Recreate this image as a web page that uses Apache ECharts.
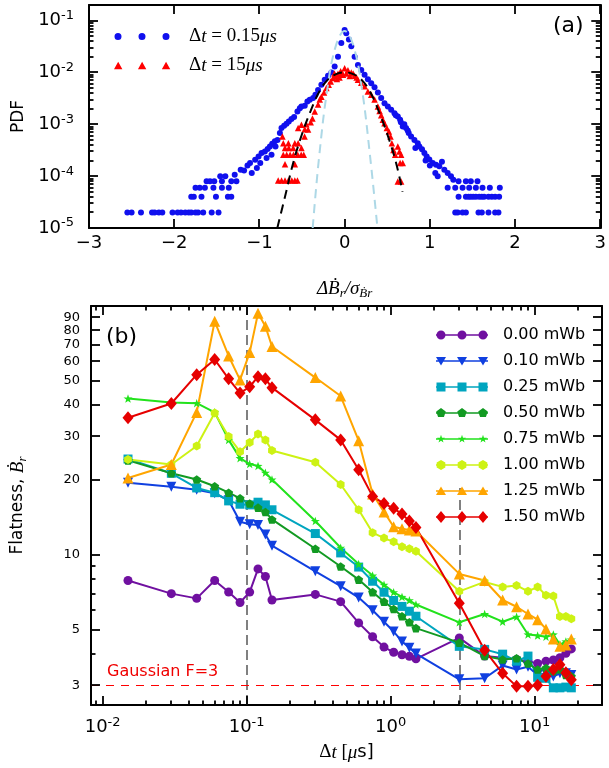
<!DOCTYPE html>
<html>
<head>
<meta charset="utf-8">
<script src="https://cdn.jsdelivr.net/npm/echarts@6/dist/echarts.min.js"></script>
<style>
html, body { margin: 0; padding: 0; background: #fff; }
#chart { width: 609px; height: 768px; }
</style>
</head>
<body>
<div id="chart"></div>
<script>
// ---- panel (a): PDF of the increments, [x, pdf] ----
const shortLagPdf = [
  [-2.55,2e-5],[-2.50,2e-5],[-2.39,2e-5],[-2.26,2e-5],[-2.23,2e-5],[-2.18,2e-5],[-2.14,2e-5],[-2.02,2e-5],[-1.96,2e-5],
  [-1.92,2e-5],[-1.87,2e-5],[-1.83,2e-5],[-1.80,2e-5],[-1.75,2e-5],[-1.72,2e-5],[-1.66,2e-5],[-1.56,2e-5],[-1.48,2e-5],
  [-1.80,4e-5],[-1.77,4e-5],[-1.68,4e-5],[-1.51,4e-5],[-1.37,4e-5],[-1.33,4e-5],
  [-1.75,6e-5],[-1.70,6e-5],[-1.64,6e-5],[-1.54,6e-5],[-1.44,6e-5],[-1.36,6e-5],
  [-1.62,8e-5],[-1.58,8e-5],[-1.53,8e-5],[-1.44,8e-5],[-1.33,8e-5],[-1.27,8e-5],
  [-1.46,1e-4],[-1.40,1e-4],[-1.29,1.07e-4],[-1.18,1.29e-4],[-1.09,1.15e-4],
  [-1.22,1.33e-4],[-1.14,1.61e-4],[-1.11,1.79e-4],[-1.05,2.07e-4],[-1.03,1.43e-4],[-1.01,2.4e-4],[-0.99,1.79e-4],
  [-0.975,2.79e-4],[-0.936,3.0e-4],[-0.916,2.23e-4],[-0.904,3.33e-4],[-0.877,3.75e-4],[-0.858,2.59e-4],[-0.85,4.2e-4],
  [-0.819,4.7e-4],[-0.811,3.75e-4],[-0.788,5.0e-4],[-0.76,6.8e-4],[-0.741,8.5e-4],[-0.71,9.4e-4],[-0.682,1.02e-3],
  [-0.655,1.13e-3],[-0.624,1.26e-3],[-0.593,1.38e-3],[-0.554,1.77e-3],[-0.526,2.05e-3],[-0.507,2.21e-3],[-0.468,2.27e-3],
  [-0.437,2.76e-3],[-0.409,2.97e-3],[-0.37,3.2e-3],[-0.343,3.7e-3],[-0.312,4.6e-3],[-0.273,5.8e-3],[-0.234,7.2e-3],
  [-0.195,8.6e-3],[-0.156,1.0e-2],[-0.117,1.3e-2],[-0.078,2.0e-2],[-0.039,3.7e-2],[0,6.6e-2],
  [0.019,5.7e-2],[0.05,4.3e-2],[0.078,3.2e-2],[0.117,2.0e-2],[0.156,1.4e-2],[0.195,1.12e-2],[0.234,9.0e-3],[0.273,7.4e-3],
  [0.312,6.2e-3],[0.351,5.2e-3],[0.39,4.1e-3],[0.429,3.2e-3],[0.468,2.56e-3],[0.507,2.2e-3],[0.546,1.9e-3],[0.585,1.64e-3],
  [0.6,1.5e-3],[0.624,1.42e-3],[0.651,1.22e-3],[0.66,1.1e-3],[0.682,9.1e-4],[0.70,1.0e-3],[0.721,8.5e-4],[0.74,7.6e-4],
  [0.752,6.8e-4],[0.78,5.8e-4],[0.819,5.0e-4],[0.83,3.5e-4],[0.858,4.3e-4],[0.877,3.75e-4],[0.908,3.3e-4],[0.936,2.8e-4],
  [0.95,2.0e-4],[0.963,2.4e-4],[0.994,2.1e-4],[1.0,1.6e-4],[1.033,1.8e-4],[1.064,1.15e-4],[1.072,1.66e-4],[1.092,1.0e-4],
  [1.111,1.55e-4],[1.142,1.9e-4],[1.17,1.33e-4],[1.209,1.15e-4],[1.248,1.0e-4],[1.275,8.5e-5],
  [1.337,8e-5],[1.423,8e-5],[1.481,8e-5],[1.559,8e-5],
  [1.209,6e-5],[1.298,6e-5],[1.384,6e-5],[1.462,6e-5],[1.540,6e-5],[1.618,6e-5],[1.704,6e-5],[1.821,6e-5],
  [1.337,4e-5],[1.423,4e-5],[1.454,4e-5],[1.481,4e-5],[1.509,4e-5],[1.540,4e-5],[1.579,4e-5],[1.610,4e-5],[1.637,4e-5],
  [1.688,4e-5],[1.727,4e-5],[1.766,4e-5],[1.813,4e-5],
  [1.298,2e-5],[1.326,2e-5],[1.384,2e-5],[1.423,2e-5],[1.571,2e-5],[1.610,2e-5],[1.688,2e-5],[1.766,2e-5],[1.805,2e-5]
];
const longLagPdf = [
  [-0.78,8.2e-5],[-0.74,8.2e-5],[-0.70,8.2e-5],[-0.66,8.2e-5],[-0.62,8.2e-5],[-0.585,8.2e-5],[-0.554,8.2e-5],
  [-0.70,1.7e-4],[-0.585,1.7e-4],
  [-0.72,2.6e-4],[-0.68,2.6e-4],[-0.64,2.6e-4],[-0.60,2.6e-4],[-0.55,2.6e-4],[-0.51,2.6e-4],[-0.48,2.6e-4],
  [-0.70,3.5e-4],[-0.655,3.5e-4],[-0.604,3.5e-4],[-0.507,3.5e-4],
  [-0.72,4.3e-4],[-0.66,4.3e-4],[-0.585,4.3e-4],[-0.546,4.3e-4],
  [-0.73,5.8e-4],[-0.47,5.8e-4],
  [-0.546,8.5e-4],[-0.507,9.8e-4],[-0.468,8.0e-4],[-0.45,1.0e-3],[-0.429,7.9e-4],[-0.398,1.1e-3],[-0.378,1.3e-3],
  [-0.351,1.77e-3],[-0.312,2.4e-3],[-0.292,3.0e-3],[-0.273,3.4e-3],[-0.242,4.1e-3],[-0.214,5.0e-3],[-0.187,5.8e-3],
  [-0.164,6.7e-3],[-0.136,7.8e-3],[-0.12,9.5e-3],[-0.109,8.6e-3],[-0.09,7.5e-3],[-0.078,9.4e-3],[-0.06,8.0e-3],
  [-0.047,1.05e-2],[-0.03,9.8e-3],[-0.019,9.0e-3],
  [0,1.2e-2],[0.02,9.5e-3],[0.039,1.1e-2],[0.06,8.5e-3],[0.078,1.0e-2],[0.1,9.5e-3],[0.117,8.6e-3],[0.14,8.0e-3],
  [0.156,7.2e-3],[0.195,6.3e-3],[0.234,5.4e-3],[0.273,4.3e-3],[0.312,3.7e-3],[0.351,3.0e-3],[0.39,2.2e-3],[0.41,1.8e-3],
  [0.429,1.5e-3],[0.448,1.22e-3],[0.468,1.05e-3],[0.495,8.5e-4],[0.519,7.3e-4],[0.538,5.8e-4],[0.554,4.3e-4],[0.573,3.2e-4],
  [0.593,2.6e-4],[0.624,3.75e-4],[0.643,3.0e-4],[0.663,2.6e-4],[0.651,1.8e-4],[0.682,1.8e-4],[0.624,7.9e-5],[0.663,7.9e-5]
];
// dashed Gaussian curves
const longLagFit = [
  [-0.79,1.0e-5],[-0.7,4.0e-5],[-0.6,1.9e-4],[-0.5,6.5e-4],[-0.4,1.8e-3],[-0.3,4.2e-3],[-0.2,7.2e-3],[-0.1,9.3e-3],
  [0,1.0e-2],[0.1,9.3e-3],[0.2,7.2e-3],[0.3,4.2e-3],[0.4,1.8e-3],[0.5,6.5e-4],[0.6,1.9e-4],[0.68,5.0e-5]
];
const shortLagFit = [
  [-0.375,1.0e-5],[-0.3,2.3e-4],[-0.2,5.2e-3],[-0.1,3.4e-2],[0,6.3e-2],[0.1,3.4e-2],[0.2,5.2e-3],[0.3,2.3e-4],[0.385,1.0e-5]
];
const incrTicks = [-3, -2, -1, 0, 1, 2, 3];
const pdfTicks = [1e-5, 1e-4, 1e-3, 1e-2, 1e-1];
const incrRange = [-3, 3];
const pdfRange = [1e-5, 0.2];

// ---- panel (b): flatness vs time lag ----
const dtValues = [0.015,0.03,0.045,0.06,0.075,0.09,0.105,0.12,0.135,0.15,0.3,0.45,0.6,0.75,0.9,1.05,1.2,1.35,1.5,
                  3,4.5,6,7.5,9,10.5,12,13.5,15,16.5,18];
const flat000 = [7.9,7.0,6.7,7.9,7.1,6.45,7.1,8.8,8.2,6.6,6.95,6.5,5.34,4.7,4.27,4.07,3.98,3.92,3.83,
                 4.65,3.93,3.87,3.81,3.75,3.67,3.75,3.79,3.87,4.03,4.2];
const flat010 = [19.5,18.8,18.3,17.7,16.6,13.6,13.3,13.2,12.1,10.9,8.6,7.5,6.75,6.0,5.4,4.93,4.5,4.24,4.02,
                 3.17,3.2,3.6,3.47,3.56,3.3,3.35,3.25,3.35,3.35,3.3];
const flat025 = [24.3,21.3,18.6,17.8,16.5,16.0,15.9,16.3,15.9,15.2,12.2,10.2,8.95,7.85,7.09,6.57,6.22,5.95,5.68,
                 4.3,4.18,4.0,3.75,3.93,3.23,3.2,2.93,2.93,2.95,2.93];
const flat050 = [24.0,21.3,20.1,18.9,17.8,16.9,16.1,15.5,14.9,13.9,10.6,9.0,7.97,7.1,6.5,6.07,5.68,5.37,5.09,
                 4.45,3.93,3.81,3.85,3.67,3.47,3.52,3.42,3.47,3.3,3.26];
const flat075 = [42.5,41.0,40.7,37.4,29.0,24.5,23.2,22.8,21.4,20.1,13.7,10.7,9.2,8.27,7.6,7.09,6.79,6.58,6.33,
                 5.37,5.8,5.4,5.65,4.8,4.75,4.7,4.8,4.37,4.5,4.58];
const flat100 = [24.2,23.1,27.4,37.2,29.9,26.0,28.3,30.6,29.0,26.3,23.6,19.2,15.2,12.3,11.7,11.3,10.8,10.6,10.35,
                 7.15,7.8,7.45,7.55,7.15,7.45,6.9,6.85,5.67,5.67,5.55];
const flat125 = [20.4,23.1,37.4,86.8,63.0,50.5,65.0,93.5,83.0,68.8,51.6,43.5,28.8,17.6,14.9,13.0,12.75,12.6,12.5,
                 8.4,7.9,6.6,6.2,5.8,5.5,5.05,4.6,4.3,4.35,4.6];
const flat150 = [35.6,40.6,53,61,51,44.7,47.4,52,51,47,34.9,29,22,17.2,16.1,15.4,14.6,13.7,12.9,
                 6.4,4.15,3.35,2.97,2.97,3.0,3.26,3.47,3.63,3.37,3.16];
const fluxNames = ['0.00 mWb','0.10 mWb','0.25 mWb','0.50 mWb','0.75 mWb','1.00 mWb','1.25 mWb','1.50 mWb'];
const dtTicks = [0.01, 0.1, 1, 10];
const flatLabels = [3, 5, 10, 20, 30, 40, 50, 60, 70, 80, 90];
const flatMinorTicks = [4, 6, 7, 8, 9];
const dtRange = [0.0083, 29.4];
const flatRange = [2.5, 100];
const gaussianFlatness = 3;
const guideLags = [0.105, 3.0];
const guideTop = 18.6;   // the second guide stops here

const SANS = '"DejaVu Sans", sans-serif';
const SERIF = '"Liberation Serif", "DejaVu Serif", serif';
const MAJOR = 9, MINOR = 4.5, TICK_W = 1.8;

const fluxColors = ['#7010a0','#1040e0','#00a5bf','#129a22','#22e21c','#cdf214','#ffa500','#e60000'];
const PENT = 'path://M0,-10L9.51,-3.09L5.88,8.09L-5.88,8.09L-9.51,-3.09Z';
const STAR = 'path://M0,-10L2.35,-3.24L9.51,-3.09L3.8,1.24L5.88,8.09L0,4L-5.88,8.09L-3.8,1.24L-9.51,-3.09L-2.35,-3.24Z';
const HEX = 'path://M0,-10L8.66,-5L8.66,5L0,10L-8.66,5L-8.66,-5Z';
const markerDefs = [
  { symbol: 'circle', size: 9, shape: 'circle' },
  { symbol: 'triangle', size: 10, rotate: 180, shape: 'tridown' },
  { symbol: 'rect', size: 9, shape: 'square' },
  { symbol: PENT, size: 9, shape: 'pent' },
  { symbol: STAR, size: 9, shape: 'star' },
  { symbol: HEX, size: 9, shape: 'hex' },
  { symbol: 'triangle', size: 11, shape: 'triup' },
  { symbol: 'diamond', size: [11, 13], shape: 'diamond' }
];
const shapePts = {
  tridown: [[-10,-8],[10,-8],[0,9]],
  square: [[-9,-9],[9,-9],[9,9],[-9,9]],
  pent: [[0,-10],[9.51,-3.09],[5.88,8.09],[-5.88,8.09],[-9.51,-3.09]],
  star: [[0,-10],[2.35,-3.24],[9.51,-3.09],[3.8,1.24],[5.88,8.09],[0,4],[-5.88,8.09],[-3.8,1.24],[-9.51,-3.09],[-2.35,-3.24]],
  hex: [[0,-10],[8.66,-5],[8.66,5],[0,10],[-8.66,5],[-8.66,-5]],
  triup: [[0,-9],[10,8],[-10,8]],
  diamond: [[0,-12],[10,0],[0,12],[-10,0]]
};

// legend icon: line with three markers (matplotlib style), blank space on the right
function lineIcon(shape) {
  let d = 'M0,0 M62,12 M0,5.2 L52,5.2 L52,6.8 L0,6.8 Z';
  [5, 26, 47].forEach(cx => {
    if (shape === 'circle') {
      d += ` M${cx - 4.5},6 A4.5,4.5 0 1 1 ${cx + 4.5},6 A4.5,4.5 0 1 1 ${cx - 4.5},6 Z`;
    } else {
      const k = shape === 'star' ? 0.42 : 0.5;
      d += ' M' + shapePts[shape].map(p => (cx + p[0] * k).toFixed(2) + ',' + (6 + p[1] * k).toFixed(2)).join(' L') + ' Z';
    }
  });
  return 'path://' + d;
}
function scatterIcon(kind) {
  let d = 'M0,0 M70,8';
  [4, 28, 52].forEach(cx => {
    if (kind === 'dot') d += ` M${cx - 3.5},4 A3.5,3.5 0 1 1 ${cx + 3.5},4 A3.5,3.5 0 1 1 ${cx - 3.5},4 Z`;
    else d += ` M${cx},0.3 L${cx + 4.2},7.7 L${cx - 4.2},7.7 Z`;
  });
  return 'path://' + d;
}
// k*10^n tick values inside a log range
function decadeTicks(range, factors) {
  const out = [];
  for (let n = Math.floor(Math.log10(range[0])) - 1; n <= Math.ceil(Math.log10(range[1])); n++) {
    factors.forEach(k => {
      const v = +(k * Math.pow(10, n)).toPrecision(3);
      if (v >= range[0] && v <= range[1]) out.push(v);
    });
  }
  return out;
}
const ks = [2, 3, 4, 5, 6, 7, 8, 9];

const supFmt = v => '10{s|' + Math.round(Math.log10(v)) + '}';
const frame = { show: true, onZero: false, lineStyle: { color: '#000', width: 2 } };
const off = { show: false };
const numLabel = vals => ({ customValues: vals, margin: 11, fontSize: 13,
  hideOverlap: false, showMaxLabel: true, showMinLabel: true, color: '#000', fontFamily: SANS });

const chart = echarts.init(document.getElementById('chart'));

const fluxData = [flat000, flat010, flat025, flat050, flat075, flat100, flat125, flat150];
const fluxSeries = fluxData.map((vals, i) => ({
  name: fluxNames[i],
  type: 'line',
  xAxisIndex: 2, yAxisIndex: 2,
  data: dtValues.map((t, j) => [t, vals[j]]),
  symbol: markerDefs[i].symbol,
  symbolSize: markerDefs[i].size,
  symbolRotate: markerDefs[i].rotate || 0,
  symbolKeepAspect: true,
  showAllSymbol: true,
  color: fluxColors[i],
  lineStyle: { width: 2, color: fluxColors[i] },
  itemStyle: { color: fluxColors[i], borderWidth: 0 },
  emphasis: { disabled: true }
}));

chart.setOption({
  animation: false,
  backgroundColor: '#fff',
  textStyle: { fontFamily: SANS },
  grid: [
    { left: 89, top: 5, width: 514, height: 223 },
    { left: 91, top: 306, width: 511, height: 399 }
  ],
  xAxis: [
    { // 0: panel (a) bottom
      gridIndex: 0, type: 'value', position: 'bottom', min: incrRange[0], max: incrRange[1], interval: 1,
      axisLine: frame, axisTick: off, splitLine: off,
      axisLabel: { margin: 6, fontSize: 18, color: '#000', fontFamily: SANS,
        formatter: v => (v < 0 ? '\u2212' + Math.abs(v) : String(v)) },
      name: '{m|\u0394\u1E02}{s|r}{m|/\u03C3}{s|\u1E02r}',
      nameLocation: 'middle', nameGap: 50,
      nameTextStyle: { color: '#000', rich: {
        m: { fontFamily: SERIF, fontStyle: 'italic', fontSize: 19, color: '#000', lineHeight: 22 },
        s: { fontFamily: SERIF, fontStyle: 'italic', fontSize: 13, color: '#000', padding: [9, 0, 0, 0] }
      } }
    },
    { // 1: panel (a) top
      gridIndex: 0, type: 'value', position: 'top', min: incrRange[0], max: incrRange[1], interval: 1,
      axisLine: frame, axisTick: off, axisLabel: off, splitLine: off
    },
    { // 2: panel (b) bottom
      gridIndex: 1, type: 'log', position: 'bottom', min: dtRange[0], max: dtRange[1],
      axisLine: frame, axisTick: off, splitLine: off, minorTick: off,
      axisLabel: { customValues: dtTicks, margin: 11, fontSize: 18, color: '#000', fontFamily: SANS, formatter: supFmt,
        rich: { s: { fontSize: 13, fontFamily: SANS, color: '#000', padding: [0, 0, 10, 0] } } },
      name: '{m|\u0394}{i|t}{m| [}{i|\u03BC}{n|s]}',
      nameLocation: 'middle', nameGap: 38,
      nameTextStyle: { color: '#000', rich: {
        m: { fontFamily: SERIF, fontSize: 19, color: '#000' },
        i: { fontFamily: SERIF, fontStyle: 'italic', fontSize: 19, color: '#000' },
        n: { fontFamily: SANS, fontSize: 18, color: '#000' }
      } }
    },
    { // 3: panel (b) top
      gridIndex: 1, type: 'log', position: 'top', min: dtRange[0], max: dtRange[1],
      axisLine: frame, axisTick: off, axisLabel: off, splitLine: off, minorTick: off
    }
  ],
  yAxis: [
    { // 0: panel (a) left
      gridIndex: 0, type: 'log', position: 'left', min: pdfRange[0], max: pdfRange[1],
      axisLine: frame, axisTick: off, splitLine: off, minorTick: off,
      axisLabel: { customValues: pdfTicks, margin: 15, fontSize: 18, color: '#000', fontFamily: SANS, formatter: supFmt,
        showMaxLabel: true, showMinLabel: true,
        rich: { s: { fontSize: 13, fontFamily: SANS, color: '#000', padding: [0, 0, 10, 0] } } },
      name: 'PDF', nameLocation: 'middle', nameGap: 60,
      nameTextStyle: { fontSize: 17, color: '#000', fontFamily: SANS }
    },
    { // 1: panel (a) right
      gridIndex: 0, type: 'log', position: 'right', min: pdfRange[0], max: pdfRange[1],
      axisLine: frame, axisTick: off, axisLabel: off, splitLine: off, minorTick: off
    },
    { // 2: panel (b) left, labels 3..80
      gridIndex: 1, type: 'log', position: 'left', min: flatRange[0], max: flatRange[1],
      axisLine: frame, axisTick: off, splitLine: off, minorTick: off,
      axisLabel: numLabel(flatLabels.slice(0, -1)),
      name: 'Flatness, {b|\u1E02}{s|r}', nameLocation: 'middle', nameGap: 62,
      nameTextStyle: { fontSize: 17, color: '#000', fontFamily: SANS, rich: {
        b: { fontFamily: SERIF, fontStyle: 'italic', fontSize: 19, color: '#000' },
        s: { fontFamily: SERIF, fontStyle: 'italic', fontSize: 13, color: '#000', padding: [9, 0, 0, 0] }
      } }
    },
    { // 3: panel (b) right
      gridIndex: 1, type: 'log', position: 'right', min: flatRange[0], max: flatRange[1],
      axisLine: frame, axisTick: off, axisLabel: off, splitLine: off, minorTick: off
    },
    { // 4: panel (b) left, the crowded top label on its own
      gridIndex: 1, type: 'log', position: 'left', min: flatRange[0], max: flatRange[1],
      axisLine: { show: false, onZero: false }, axisTick: off, splitLine: off, minorTick: off,
      axisLabel: numLabel(flatLabels.slice(-1))
    }
  ],
  legend: [
    {
      left: 109, top: 22, orient: 'vertical', selectedMode: false,
      itemWidth: 70, itemHeight: 8, itemGap: 10,
      data: [{ name: 'short', icon: scatterIcon('dot') }, { name: 'long', icon: scatterIcon('tri') }],
      formatter: n => n === 'short'
        ? '{a|\u0394}{b|t}{a| = 0.15}{b|\u03BCs}'
        : '{a|\u0394}{b|t}{a| = 15}{b|\u03BCs}',
      textStyle: { rich: {
        a: { fontFamily: SERIF, fontSize: 19, color: '#000', lineHeight: 20 },
        b: { fontFamily: SERIF, fontStyle: 'italic', fontSize: 19, color: '#000', lineHeight: 20 }
      } }
    },
    {
      left: 431, top: 322, orient: 'vertical', selectedMode: false,
      itemWidth: 62, itemHeight: 12, itemGap: 10,
      data: fluxNames.map((n, i) => ({ name: n, icon: lineIcon(markerDefs[i].shape) })),
      textStyle: { fontSize: 16, lineHeight: 16, color: '#000', fontFamily: SANS }
    }
  ],
  series: [
    {
      name: 'short', type: 'scatter', xAxisIndex: 0, yAxisIndex: 0,
      data: shortLagPdf, symbol: 'circle', symbolSize: 6,
      itemStyle: { color: '#1010ee', opacity: 1 }, emphasis: { disabled: true }
    },
    {
      name: 'long', type: 'scatter', xAxisIndex: 0, yAxisIndex: 0,
      data: longLagPdf, symbol: 'triangle', symbolSize: 6.5,
      itemStyle: { color: '#ff0000', opacity: 1 }, emphasis: { disabled: true }
    },
    {
      name: 'fitShort', type: 'line', xAxisIndex: 0, yAxisIndex: 0,
      data: shortLagFit, smooth: 0.4, showSymbol: false,
      lineStyle: { color: '#add8e6', width: 2, type: [9, 6] }
    },
    {
      name: 'fitLong', type: 'line', xAxisIndex: 0, yAxisIndex: 0,
      data: longLagFit, smooth: 0.4, showSymbol: false,
      lineStyle: { color: '#000', width: 2, type: [9, 6] }
    },
    {
      name: 'guides', type: 'line', xAxisIndex: 2, yAxisIndex: 2, data: [],
      markLine: {
        silent: true, z: 1, symbol: ['none', 'none'], label: { show: false },
        data: [
          { xAxis: guideLags[0], lineStyle: { color: '#808080', width: 2, type: [10, 5] } },
          [{ coord: [guideLags[1], flatRange[0]], lineStyle: { color: '#808080', width: 2, type: [10, 5] } },
           { coord: [guideLags[1], guideTop] }],
          { yAxis: gaussianFlatness, lineStyle: { color: '#ff0000', width: 1, type: [8, 7] } }
        ]
      }
    }
  ].concat(fluxSeries)
});

// inward tick marks on all four sides, positioned with the chart's own axes
function tickLines(xi, yi, xr, yr, xMajor, xMinor, yMajor, yMinor) {
  const finder = { xAxisIndex: xi, yAxisIndex: yi };
  const P = v => chart.convertToPixel(finder, v);
  const lo = P([xr[0], yr[0]]), hi = P([xr[1], yr[1]]);
  const left = lo[0], bottom = lo[1], right = hi[0], top = hi[1];
  const seg = (x1, y1, x2, y2) => ({ type: 'line', silent: true, z: 100,
    shape: { x1, y1, x2, y2 }, style: { stroke: '#000', lineWidth: TICK_W } });
  const els = [];
  [[xMajor, MAJOR], [xMinor, MINOR]].forEach(([vals, len]) => vals.forEach(v => {
    const x = Math.round(P([v, yr[0]])[0]);
    els.push(seg(x, bottom, x, bottom - len), seg(x, top, x, top + len));
  }));
  [[yMajor, MAJOR], [yMinor, MINOR]].forEach(([vals, len]) => vals.forEach(v => {
    const y = Math.round(P([xr[0], v])[1]);
    els.push(seg(left, y, left + len, y), seg(right, y, right - len, y));
  }));
  return els;
}

chart.setOption({
  graphic: [
    { type: 'text', left: 553, top: 15, style: { text: '(a)', fontSize: 22, fontFamily: SANS, fill: '#000' } },
    { type: 'text', left: 106, top: 326, style: { text: '(b)', fontSize: 22, fontFamily: SANS, fill: '#000' } },
    { type: 'text', left: 107, top: 664, style: { text: 'Gaussian F=3', fontSize: 16, fontFamily: SANS, fill: '#f00000' } }
  ].concat(
    tickLines(0, 0, incrRange, pdfRange, incrTicks, [], pdfTicks, decadeTicks(pdfRange, ks)),
    tickLines(2, 2, dtRange, flatRange, dtTicks, decadeTicks(dtRange, ks), flatLabels, flatMinorTicks)
  )
});
</script>
</body>
</html>
